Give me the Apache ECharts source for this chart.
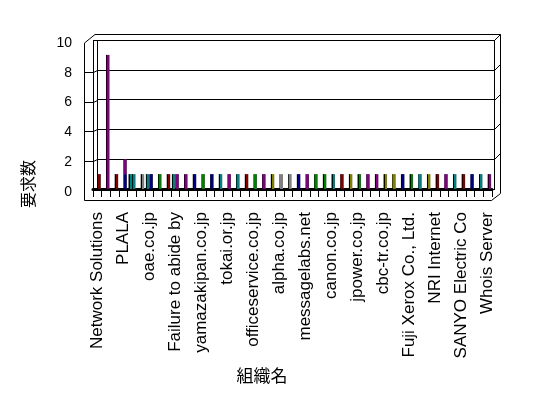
<!DOCTYPE html>
<html><head><meta charset="utf-8">
<script src="https://cdn.jsdelivr.net/npm/echarts@6/dist/echarts.min.js"></script>
<style>html,body{margin:0;padding:0;background:#fff}#c{width:548px;height:398px}</style>
</head><body><div id="c"></div>
<script>
// ---- data ----
const categories = ['Network Solutions','','','PLALA','','','oae.co.jp','','','Failure to abide by','','',
  'yamazakipan.co.jp','','','tokai.or.jp','','','officeservice.co.jp','','','alpha.co.jp','','',
  'messagelabs.net','','','canon.co.jp','','','jpower.co.jp','','','cbc-tr.co.jp','','',
  'Fuji Xerox Co., Ltd.','','','NRI Internet','','','SANYO Electric Co','','','Whois Server'];
const valueTicks = [0, 2, 4, 6, 8, 10];
// right-slot bars
const valuesB = [1,9,1,1,1,1,1,1,1,1,1,1,1,1,1,1,1,1,1,1,1,1,1,1,1,1,1,1,1,1,1,1,1,1,1,1,1,1,1,1,1,1,1,1,1,1];
// left-slot bars
const valuesA = [null,null,null,null,1,null,1,null,null,1,null,null,null,null,null,null,null,null,null,null,null,null,null,
  null,null,null,null,null,null,null,null,null,null,null,null,null,null,null,null,null,null,null,null,null,null,null];
// stacked on the right-slot bars
const valuesC = [null,null,null,1,null,null,null,null,null,null,null,null,null,null,null,null,null,null,null,null,null,null,null,
  null,null,null,null,null,null,null,null,null,null,null,null,null,null,null,null,null,null,null,null,null,null,null];
const colorsB = ['dr','pu','dr','nv','tl','gy','nv','gn','dr','pu','pu','nv','gn','nv','tl','pu','tl','dr','gn','pu','ol','gy','gy',
  'nv','pu','gn','gn','tl','dr','ol','gn','pu','pu','ol','ol','nv','gn','tl','ol','dr','pu','tl','dr','nv','tl','pu'];
const colorsA = {4:'tl', 6:'tl', 9:'tl'};
const colorsC = {3:'pu'};

// ---- style ----
const palette = {dr:'#800000', pu:'#800080', nv:'#000080', tl:'#008080', gy:'#808080', gn:'#008000', ol:'#808000'};
const FONT = "'Liberation Sans', Arial, sans-serif";
const CJK = "'Noto Sans CJK JP', sans-serif";
const L = 93, R = 492, T = 40, B = 189, BL = 97, BR = 494, OX = 500.5, OY = 34.5;

function shade(c) {
  return new echarts.graphic.LinearGradient(0, 0, 1, 0, [
    {offset: 0, color: '#000'}, {offset: 0.28, color: '#000'},
    {offset: 0.28, color: c}, {offset: 1, color: c}]);
}
function items(vals, cols) {
  return vals.map((v, i) => v == null ? null : {value: v, itemStyle: {color: shade(palette[cols[i]])}});
}

const chart = echarts.init(document.getElementById('c'), null, {renderer: 'canvas'});

const gl = [];
function ln(x1, y1, x2, y2, w) {
  gl.push({type: 'line', silent: true, z: 0, shape: {x1, y1, x2, y2}, style: {stroke: '#000', lineWidth: w || 1}});
}
const px = v => B - (v - valueTicks[0]) / (valueTicks[valueTicks.length - 1] - valueTicks[0]) * (B - T);
// outer frame
ln(84.5, 43, 84.5, 200.5);
ln(84.5, 43, 95, OY);
ln(95, OY, OX, OY);
ln(OX, OY, OX, 193.5);
ln(OX, 193.5, 491.5, 200.5);
ln(84.5, 200.5, 491.5, 200.5);
ln(93.5, T, 93.5, 192);
ln(93.5, T + 0.5, BL, T + 0.5);
ln(BL + 0.5, T, BL + 0.5, B);
ln(BR + 0.5, T, BR + 0.5, B + 1);
ln(BR + 0.5, T + 0.5, OX, OY);
valueTicks.forEach(v => {
  const y = Math.round(px(v)) + 0.5;
  if (v > valueTicks[0] && v < valueTicks[valueTicks.length - 1]) {
    ln(84.5, y + 2, 93.5, y + 2);
    ln(93.5, y + 2, BL + 0.5, y);
    ln(BR + 0.5, y, OX, y - 6);
  }
});
gl.push({type: 'text', x: 28, y: 184, rotation: Math.PI / 2,
  style: {text: '要求数', font: '16px ' + CJK, fill: '#000', align: 'center', verticalAlign: 'middle'}});
gl.push({type: 'text', x: 262, y: 376,
  style: {text: '組織名', font: '17px ' + CJK, fill: '#000', align: 'center', verticalAlign: 'middle'}});

chart.setOption({
  animation: false,
  backgroundColor: '#fff',
  grid: [
    {left: L, right: 548 - R, top: T, bottom: 398 - B},
    {left: BL, right: 548 - BR, top: T, bottom: 398 - B}
  ],
  xAxis: [
    {type: 'category', gridIndex: 0, data: categories, boundaryGap: true, offset: 2,
      axisLine: {show: true, lineStyle: {color: '#000', width: 3}},
      axisTick: {show: true, interval: 0, length: 8, lineStyle: {color: '#000', width: 1}},
      axisLabel: {rotate: 90, interval: 2, margin: 21, fontSize: 17, color: '#000', fontFamily: FONT},
      splitLine: {show: false}},
    {type: 'category', gridIndex: 1, data: categories, show: false}
  ],
  yAxis: [
    {type: 'value', gridIndex: 0, min: valueTicks[0], max: valueTicks[valueTicks.length - 1],
      interval: valueTicks[1] - valueTicks[0],
      axisLine: {show: false}, axisTick: {show: false}, splitLine: {show: false},
      axisLabel: {margin: 21, fontSize: 14, color: '#000', fontFamily: FONT,
        formatter: '{a|{value}}', rich: {a: {fontSize: 14, fontFamily: FONT, color: '#000', padding: [6, 0, 0, 0]}}}},
    {type: 'value', gridIndex: 1, min: valueTicks[0], max: valueTicks[valueTicks.length - 1],
      interval: valueTicks[1] - valueTicks[0],
      axisLine: {show: false}, axisTick: {show: false}, axisLabel: {show: false},
      splitLine: {show: true, lineStyle: {color: '#000', width: 1}}}
  ],
  series: [
    {type: 'line', xAxisIndex: 1, yAxisIndex: 1, data: [], silent: true},
    {name: 'A', type: 'bar', xAxisIndex: 0, yAxisIndex: 0, barWidth: 3.5, barGap: '0%', data: items(valuesA, colorsA), z: 3},
    {name: 'B', type: 'bar', xAxisIndex: 0, yAxisIndex: 0, barWidth: 3.5, barGap: '0%', stack: 'b', data: items(valuesB, colorsB), z: 3},
    {name: 'C', type: 'bar', xAxisIndex: 0, yAxisIndex: 0, barWidth: 3.5, barGap: '0%', stack: 'b', data: items(valuesC, colorsC), z: 3}
  ],
  graphic: gl
});
</script></body></html>
